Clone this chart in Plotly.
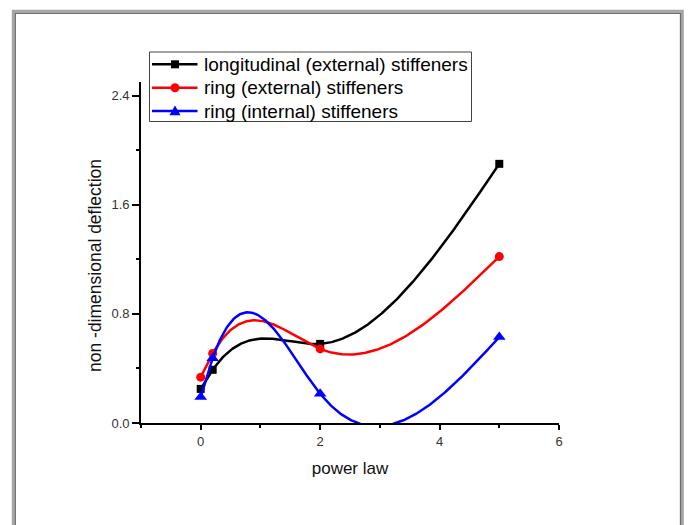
import numpy as np
import plotly.graph_objects as go

power_law = [0, 0.2, 2, 5]
longitudinal_ext = [0.25, 0.39, 0.58, 1.90]
ring_ext = [0.336, 0.51, 0.543, 1.22]
ring_int = [0.19, 0.475, 0.214, 0.63]

names = ["longitudinal (external) stiffeners",
         "ring (external) stiffeners",
         "ring (internal) stiffeners"]
colors = ["#000000", "#ff0000", "#0000ff"]
symbols = ["square", "circle", "triangle-up"]
msizes = [8, 9, 11]


def natural_spline(x, y, n=300):
    x = np.asarray(x, float)
    y = np.asarray(y, float)
    k = len(x)
    h = np.diff(x)
    A = np.zeros((k, k))
    b = np.zeros(k)
    A[0, 0] = 1
    A[-1, -1] = 1
    for i in range(1, k - 1):
        A[i, i - 1] = h[i - 1]
        A[i, i] = 2 * (h[i - 1] + h[i])
        A[i, i + 1] = h[i]
        b[i] = 6 * ((y[i + 1] - y[i]) / h[i] - (y[i] - y[i - 1]) / h[i - 1])
    M = np.linalg.solve(A, b)
    xs = np.linspace(x[0], x[-1], n)
    ys = np.empty_like(xs)
    for j, t in enumerate(xs):
        i = min(np.searchsorted(x, t, side="right") - 1, k - 2)
        i = max(i, 0)
        a = x[i + 1] - t
        c = t - x[i]
        ys[j] = (M[i] * a ** 3 + M[i + 1] * c ** 3) / (6 * h[i]) \
            + (y[i] / h[i] - M[i] * h[i] / 6) * a \
            + (y[i + 1] / h[i] - M[i + 1] * h[i] / 6) * c
    return xs, ys


fig = go.Figure()
for name, ys, col, sym, ms in zip(names, [longitudinal_ext, ring_ext, ring_int], colors, symbols, msizes):
    sx, sy = natural_spline(power_law, ys)
    fig.add_trace(go.Scatter(x=sx, y=sy, mode="lines", line=dict(color=col, width=2.5),
                             showlegend=False, hoverinfo="skip"))
    fig.add_trace(go.Scatter(x=power_law, y=ys, mode="markers", name=name,
                             marker=dict(symbol=sym, size=ms, color=col),
                             showlegend=False))

L, R, T, B = 141, 129, 82, 102
W, H = 688, 525
pw, ph = W - L - R, H - T - B


def px(xp):
    return (xp - L) / pw


def py(yp):
    return (H - B - yp) / ph


shapes = [
    dict(type="rect", xref="paper", yref="paper", x0=px(13.3), x1=px(682.3), y0=py(11.3), y1=py(560),
         line=dict(color="#a6a6a6", width=3), fillcolor="rgba(0,0,0,0)", layer="below"),
    dict(type="rect", xref="paper", yref="paper", x0=px(15.3), x1=px(680.5), y0=py(13.3), y1=py(560),
         line=dict(color="#6e6e6e", width=1.3), fillcolor="rgba(0,0,0,0)", layer="below"),
    # legend box
    dict(type="rect", xref="paper", yref="paper", x0=px(149.5), x1=px(471.5), y0=py(52), y1=py(121.5),
         line=dict(color="#444444", width=1), fillcolor="white", layer="above"),
]

annotations = []
row_y = [64.3, 87.7, 111.0]
mx = 175
for name, col, sym, ms, ry in zip(names, colors, symbols, msizes, row_y):
    shapes.append(dict(type="line", xref="paper", yref="paper", x0=px(152), x1=px(197.5),
                       y0=py(ry), y1=py(ry), line=dict(color=col, width=2.5), layer="above"))
    r = ms / 2
    if sym == "square":
        shapes.append(dict(type="rect", xref="paper", yref="paper", x0=px(mx - r), x1=px(mx + r),
                           y0=py(ry - r), y1=py(ry + r), line=dict(width=0), fillcolor=col, layer="above"))
    elif sym == "circle":
        shapes.append(dict(type="circle", xref="paper", yref="paper", x0=px(mx - r), x1=px(mx + r),
                           y0=py(ry - r), y1=py(ry + r), line=dict(width=0), fillcolor=col, layer="above"))
    else:
        path = "M {} {} L {} {} L {} {} Z".format(px(mx - r), py(ry + r * 0.75), px(mx + r), py(ry + r * 0.75),
                                                   px(mx), py(ry - r))
        shapes.append(dict(type="path", xref="paper", yref="paper", path=path,
                           line=dict(width=0), fillcolor=col, layer="above"))
    annotations.append(dict(text=name, xref="paper", yref="paper", x=px(202), y=py(ry),
                            xanchor="left", yanchor="middle", showarrow=False,
                            font=dict(size=19, color="#000000")))

annotations.append(dict(text="non -dimensional deflection", xref="paper", yref="paper",
                        x=px(95), y=py(266), xanchor="center", yanchor="middle", textangle=-90,
                        showarrow=False, font=dict(size=17.5, color="#111111")))

fig.update_layout(
    width=W, height=H,
    margin=dict(l=L, r=R, t=T, b=B, pad=0),
    paper_bgcolor="white", plot_bgcolor="white",
    font=dict(family="Liberation Sans, Arial, sans-serif", color="#333333"),
    shapes=shapes,
    annotations=annotations,
    showlegend=False,
    xaxis=dict(range=[-1, 6], tickvals=[0, 2, 4, 6], ticks="outside", ticklen=5, tickwidth=1.5,
               tickcolor="black", showline=True, linecolor="black", linewidth=1.8,
               showgrid=False, zeroline=False, tickfont=dict(size=13),
               minor=dict(tickvals=[-1, 1, 3, 5], ticks="outside", ticklen=3, tickwidth=1.5, tickcolor="black"),
               title=dict(text="power law", font=dict(size=17, color="#111111"), standoff=15)),
    yaxis=dict(range=[0, 2.5], tickvals=[0, 0.8, 1.6, 2.4], ticktext=["0.0", "0.8", "1.6", "2.4"],
               ticks="outside", ticklen=7, tickwidth=1.5,
               tickcolor="black", showline=True, linecolor="black", linewidth=1.8,
               showgrid=False, zeroline=False, tickfont=dict(size=13),
               minor=dict(tickvals=[0.4, 1.2, 2.0], ticks="outside", ticklen=3, tickwidth=1.5, tickcolor="black")),
)

fig.write_html("out.html")
